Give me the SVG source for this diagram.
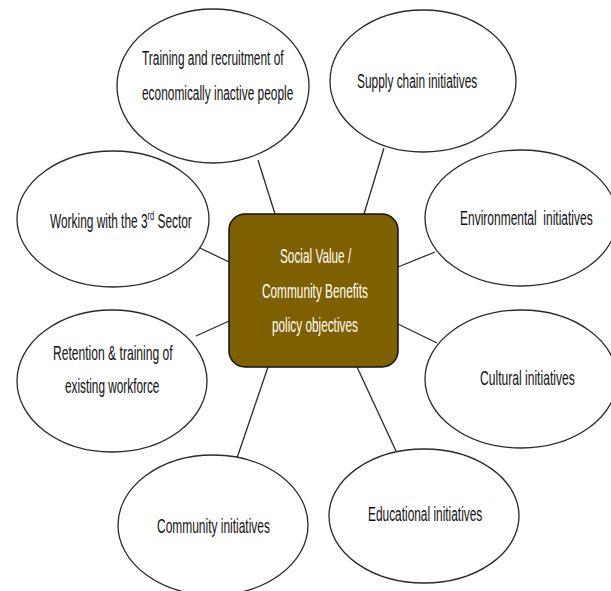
<svg xmlns="http://www.w3.org/2000/svg" width="611" height="591" viewBox="0 0 611 591">
<style>
.n ellipse{fill:#fff;stroke:#2a2a2a;stroke-width:1.3}
.t{font-family:"Liberation Sans",Arial,sans-serif;font-size:20px;fill:#111;white-space:pre}
.c{font-family:"Liberation Sans",Arial,sans-serif;font-size:20px;fill:#fff}
#connectors line{stroke:#2a2a2a;stroke-width:1.3}
</style>
<rect width="611" height="591" fill="#fff"/>
<g id="connectors">
<line x1="258" y1="160" x2="275" y2="214"/>
<line x1="384" y1="148" x2="364" y2="214"/>
<line x1="200" y1="248" x2="229" y2="262"/>
<line x1="435" y1="252" x2="398" y2="267"/>
<line x1="196" y1="336" x2="229" y2="321"/>
<line x1="437" y1="343" x2="398" y2="324"/>
<line x1="237" y1="458" x2="268" y2="367"/>
<line x1="396" y1="451" x2="357" y2="367"/>
</g>
<g id="n-training" class="n">
<ellipse cx="213" cy="86" rx="96" ry="77"/>
<text class="t" transform="translate(142,65) scale(0.595,1)">Training and recruitment of</text>
<text class="t" transform="translate(142,100) scale(0.595,1)">economically inactive people</text>
</g>
<g id="n-supply" class="n">
<ellipse cx="423" cy="81" rx="93" ry="71"/>
<text class="t" transform="translate(357,88) scale(0.595,1)">Supply chain initiatives</text>
</g>
<g id="n-third" class="n">
<ellipse cx="113" cy="219" rx="96" ry="68"/>
<text class="t" transform="translate(50,228) scale(0.595,1)">Working with the 3<tspan font-size="12.5" dy="-8">rd</tspan><tspan dy="8"> Sector</tspan></text>
</g>
<g id="n-env" class="n">
<ellipse cx="521" cy="218" rx="96" ry="68"/>
<text class="t" transform="translate(460,225) scale(0.6,1)">Environmental  initiatives</text>
</g>
<g id="n-retention" class="n">
<ellipse cx="112" cy="381" rx="95" ry="71"/>
<text class="t" transform="translate(53,360) scale(0.605,1)">Retention &amp; training of</text>
<text class="t" transform="translate(65,393) scale(0.59,1)">existing workforce</text>
</g>
<g id="n-cultural" class="n">
<ellipse cx="521" cy="379" rx="96" ry="69"/>
<text class="t" transform="translate(480,385) scale(0.605,1)">Cultural initiatives</text>
</g>
<g id="n-community" class="n">
<ellipse cx="213" cy="525" rx="95" ry="70"/>
<text class="t" transform="translate(157,533) scale(0.598,1)">Community initiatives</text>
</g>
<g id="n-educational" class="n">
<ellipse cx="424" cy="516" rx="95" ry="67"/>
<text class="t" transform="translate(368,521) scale(0.595,1)">Educational initiatives</text>
</g>
<g id="n-center">
<rect x="229" y="214" width="169" height="153" rx="16" fill="#7F6000" stroke="#111" stroke-width="1.5"/>
<text class="c" transform="translate(280,263) scale(0.59,1)">Social Value /</text>
<text class="c" transform="translate(262,298) scale(0.592,1)">Community Benefits</text>
<text class="c" transform="translate(272,332) scale(0.59,1)">policy objectives</text>
</g>
</svg>
